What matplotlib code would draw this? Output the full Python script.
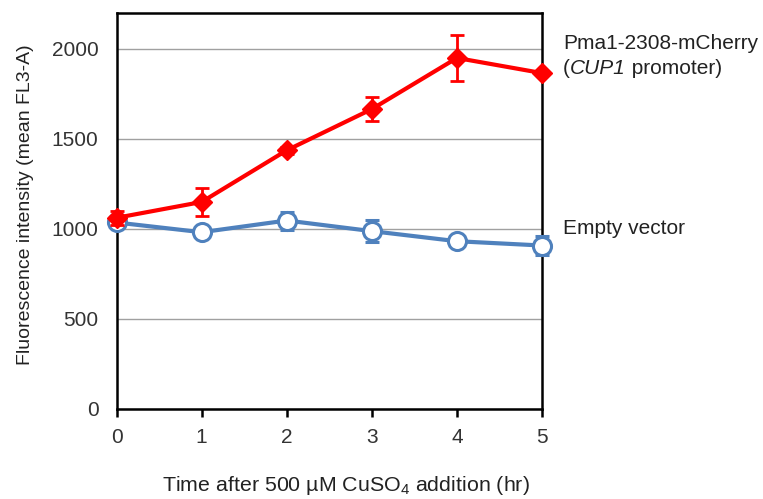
import matplotlib
matplotlib.use("Agg")
import matplotlib.pyplot as plt

plt.rcParams['font.family'] = ['Liberation Sans', 'DejaVu Sans']
plt.rcParams['mathtext.fontset'] = 'custom'
plt.rcParams['mathtext.rm'] = 'Liberation Sans'

# datos
horas = [0, 1, 2, 3, 4, 5]
pma1 = [1062, 1150, 1437, 1666, 1950, 1866]
pma1_err = [40, 80, 20, 65, 128, 0]
vacio = [1036, 982, 1047, 988, 932, 908]
vacio_err = [20, 15, 50, 60, 20, 55]

fig = plt.figure(figsize=(7.63, 4.99), dpi=100)
ax = fig.add_axes([0.1527, 0.1804, 0.5577, 0.7936])

ax.errorbar(horas, vacio, yerr=vacio_err, color="#4F81BD", lw=3, marker="o",
            ms=13, mfc="white", mec="#4F81BD", mew=2.2, capsize=5, capthick=2,
            elinewidth=2, zorder=3, clip_on=False)
ax.errorbar(horas, pma1, yerr=pma1_err, color="#FF0000", lw=3, marker="D",
            ms=10, mfc="#FF0000", mec="#FF0000", capsize=5, capthick=2,
            elinewidth=2, zorder=4, clip_on=False)

ax.set_xlim(0, 5)
ax.set_ylim(0, 2200)
ax.set_xticks(horas)
ax.set_yticks([0, 500, 1000, 1500, 2000])
ax.yaxis.grid(True, color="#A0A0A0", lw=1)
ax.set_axisbelow(True)
for s in ax.spines.values():
    s.set_linewidth(1.8)
    s.set_color("black")
ax.tick_params(axis="y", length=0, labelsize=15, pad=13, colors="#333333")
ax.tick_params(axis="x", length=6, width=1.8, direction="out", labelsize=15,
               pad=8, colors="#333333")
ax.tick_params(axis="x", color="black")

ax.set_ylabel("Fluorescence intensity (mean FL3-A)", fontsize=14, color="#222222")
ax.yaxis.set_label_coords(-0.194, 0.515)
ax.set_xlabel("Time after 500 µM CuSO$_4$ addition (hr)", fontsize=15.4,
              color="#222222")
ax.xaxis.set_label_coords(0.539, -0.165)

tam = 15
fig.text(0.738, 0.912, "Pma1-2308-mCherry", fontsize=tam, color="#222222", va="center")
# "(CUP1 promoter)" con CUP1 en cursiva
fig.canvas.draw()
r = fig.canvas.get_renderer()
t1 = fig.text(0.738, 0.863, "(", fontsize=tam, color="#222222", va="center")
x = t1.get_window_extent(r).x1 / fig.bbox.width
t2 = fig.text(x, 0.863, "CUP1", fontsize=tam, color="#222222", va="center", style="italic")
x = t2.get_window_extent(r).x1 / fig.bbox.width
fig.text(x, 0.863, " promoter)", fontsize=tam, color="#222222", va="center")
fig.text(0.738, 0.543, "Empty vector", fontsize=tam, color="#222222", va="center")

fig.savefig("out.png", dpi=100)
